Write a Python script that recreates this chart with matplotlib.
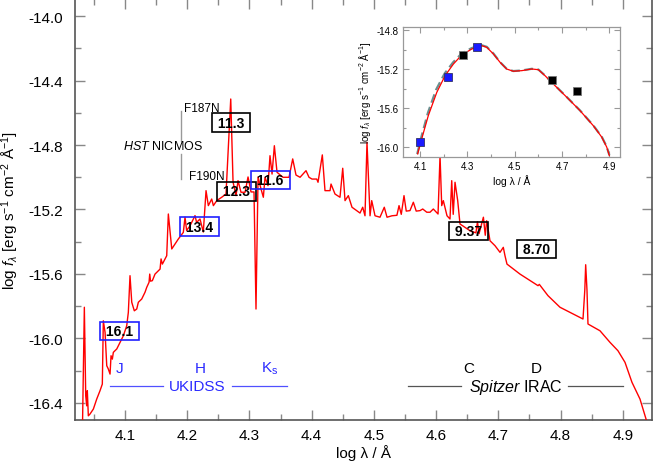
import matplotlib
matplotlib.use("Agg")
import matplotlib.pyplot as plt
from matplotlib.ticker import MultipleLocator

plt.rcParams['font.family'] = ['Liberation Sans', 'DejaVu Sans']
plt.rcParams['mathtext.fontset'] = 'custom'
plt.rcParams['mathtext.rm'] = 'Liberation Sans'
plt.rcParams['mathtext.it'] = 'Liberation Sans:italic'
plt.rcParams['mathtext.bf'] = 'Liberation Sans:bold'
plt.rcParams['axes.unicode_minus'] = False

# ---------------- data: main spectrum (log lambda, log f_lambda) ----------------
spec_x = [4.0314, 4.0346, 4.0368, 4.0384, 4.0394, 4.0410, 4.0437, 4.0491, 4.0545, 4.0598,
          4.0635, 4.0651, 4.0679, 4.0706, 4.0732, 4.0759, 4.0775, 4.0796, 4.0812, 4.0867,
          4.0920, 4.0973, 4.1027, 4.1053, 4.1080, 4.1108, 4.1149, 4.1188, 4.1214, 4.1268,
          4.1321, 4.1349, 4.1386, 4.1397, 4.1410, 4.1439, 4.1482, 4.1563, 4.1579, 4.1600,
          4.1643, 4.1670, 4.1696, 4.1751, 4.1857, 4.1937, 4.1964, 4.1990, 4.2045, 4.2125,
          4.2150, 4.2205, 4.2258, 4.2302, 4.2339, 4.2393, 4.2420, 4.2474, 4.2554, 4.2623,
          4.2699, 4.2736, 4.2784, 4.2816, 4.2864, 4.2929, 4.2977, 4.3025, 4.3073, 4.3105,
          4.3138, 4.3186, 4.3223, 4.3250, 4.3298, 4.3330, 4.3363, 4.3400, 4.3443, 4.3539,
          4.3636, 4.3695, 4.3748, 4.3813, 4.3909, 4.3957, 4.4005, 4.4081, 4.4102, 4.4171,
          4.4214, 4.4295, 4.4311, 4.4375, 4.4455, 4.4499, 4.4536, 4.4589, 4.4648, 4.4777,
          4.4820, 4.4857, 4.4889, 4.4938, 4.4965, 4.5018, 4.5098, 4.5167, 4.5211, 4.5291,
          4.5370, 4.5404, 4.5440, 4.5484, 4.5520, 4.5580, 4.5634, 4.5680, 4.5741, 4.5785,
          4.5850, 4.5902, 4.5955, 4.6031, 4.6063, 4.6090, 4.6116, 4.6175, 4.6223, 4.6251,
          4.6275, 4.6304, 4.6347, 4.6384, 4.6464, 4.6545, 4.6640, 4.6665, 4.6690, 4.6760,
          4.6790, 4.6813, 4.6866, 4.6947, 4.7027, 4.7080, 4.7107, 4.7139, 4.7348, 4.7638,
          4.7659, 4.7798, 4.7991, 4.8361, 4.8390, 4.8404, 4.8425, 4.8441, 4.8634, 4.8795,
          4.8923, 4.9036, 4.9148, 4.9277, 4.9374, 4.9450]
spec_y = [-16.60, -15.807, -16.357, -16.419, -16.325, -16.481, -16.470, -16.439, -16.377, -16.325,
          -16.284, -15.891, -15.963, -16.170, -16.191, -16.222, -16.108, -16.129, -16.087, -16.066,
          -16.025, -15.984, -15.922, -15.839, -15.611, -15.776, -15.829, -15.818, -15.776, -15.756,
          -15.714, -15.683, -15.652, -15.601, -15.645, -15.642, -15.601, -15.570, -15.507, -15.539,
          -15.507, -15.487, -15.228, -15.445, -15.383, -15.342, -15.248, -15.330, -15.301, -15.238,
          -15.280, -15.259, -15.340, -15.083, -15.176, -15.135, -15.176, -15.145, -15.124, -15.104,
          -14.514, -15.029, -15.114, -15.021, -15.093, -15.093, -14.998, -15.091, -15.091, -15.818,
          -14.998, -15.073, -15.124, -15.000, -15.052, -14.866, -14.980, -14.804, -14.969, -15.000,
          -15.000, -14.886, -14.986, -15.000, -14.959, -15.000, -15.011, -15.011, -15.031, -14.861,
          -15.083, -15.083, -15.042, -15.104, -15.124, -14.944, -15.145, -15.114, -15.186, -15.222,
          -15.186, -15.239, -14.783, -15.239, -15.145, -15.239, -15.248, -15.186, -15.248, -15.239,
          -15.236, -15.176, -15.230, -15.114, -15.210, -15.207, -15.155, -15.210, -15.207, -15.197,
          -15.217, -15.217, -15.197, -15.228, -14.866, -15.176, -15.145, -15.239, -15.259, -15.021,
          -15.230, -15.031, -15.145, -15.290, -15.311, -15.332, -15.345, -15.276, -15.350, -15.248,
          -15.360, -15.270, -15.394, -15.425, -15.466, -15.435, -15.487, -15.539, -15.601, -15.673,
          -15.665, -15.735, -15.807, -15.880, -15.700, -15.543, -15.700, -15.911, -15.953, -16.025,
          -16.077, -16.149, -16.273, -16.377, -16.501, -16.650]

# photometry labels (magnitudes) and their positions
box_labels = ['16.1', '13.4', '11.3', '12.3', '11.6', '9.37', '8.70']
box_x = [4.091, 4.2197, 4.270, 4.2784, 4.3338, 4.652, 4.762]
box_y = [-15.953, -15.306, -14.660, -15.088, -15.018, -15.334, -15.445]
box_colors = ['blue', 'blue', 'black', 'black', 'blue', 'black', 'black']

# filter-name labels
band_labels = ['J', 'H', 'K$_\\mathrm{s}$', 'C', 'D']
band_x = [4.0908, 4.2205, 4.333, 4.6518, 4.7617]
band_y = [-16.186, -16.186, -16.186, -16.186, -16.186]
band_colors = ['#2a2aff', '#2a2aff', '#2a2aff', 'black', 'black']

# ---------------- inset data ----------------
model_x = [4.090, 4.107, 4.135, 4.171, 4.206, 4.241, 4.276, 4.319, 4.361, 4.382, 4.410, 4.438,
           4.466, 4.494, 4.530, 4.572, 4.600, 4.628, 4.663, 4.720, 4.776, 4.832, 4.868, 4.889, 4.900]
model_y = [-16.068, -15.915, -15.676, -15.437, -15.267, -15.148, -15.056, -14.994, -14.960, -14.977,
           -15.045, -15.130, -15.199, -15.222, -15.216, -15.199, -15.206, -15.267, -15.352, -15.488,
           -15.625, -15.779, -15.897, -15.999, -16.085]
model2_x = [4.088, 4.105, 4.133, 4.168, 4.204, 4.240, 4.276, 4.318, 4.360, 4.382, 4.410, 4.438,
            4.466, 4.494, 4.530, 4.572, 4.600, 4.628, 4.663, 4.720, 4.776, 4.832, 4.868, 4.889, 4.900]
model2_y = [-16.070, -15.900, -15.650, -15.410, -15.245, -15.130, -15.040, -14.985, -14.955, -14.972,
            -15.040, -15.128, -15.197, -15.220, -15.214, -15.197, -15.204, -15.265, -15.350, -15.486,
            -15.623, -15.776, -15.893, -15.995, -16.080]
phot_blue_x = [4.10, 4.22, 4.34]
phot_blue_y = [-15.95, -15.277, -14.977]
phot_black_x = [4.283, 4.656, 4.765]
phot_black_y = [-15.056, -15.308, -15.420]

# ---------------- figure ----------------
fig = plt.figure(figsize=(6.54, 4.64), dpi=100)
ax = fig.add_axes([0.1147, 0.0927, 0.8830, 0.9073])
ax.plot(spec_x, spec_y, color='red', lw=1.0, zorder=3)
ax.set_xlim(4.0196, 4.9478)
ax.set_ylim(-16.507, -13.893)

ax.set_xticks([4.1, 4.2, 4.3, 4.4, 4.5, 4.6, 4.7, 4.8, 4.9])
ax.set_yticks([-16.4, -16.0, -15.6, -15.2, -14.8, -14.4, -14.0])
ax.xaxis.set_minor_locator(MultipleLocator(0.05))
ax.yaxis.set_minor_locator(MultipleLocator(0.2))
ax.tick_params(which='both', direction='in', top=True, right=True, color='#888888',
               width=1.0, labelsize=11)
ax.tick_params(which='major', length=7.5)
ax.tick_params(which='minor', length=4)
ax.tick_params(axis='x', pad=6)
ax.tick_params(axis='y', pad=9)
for s in ax.spines.values():
    s.set_color('#555555')
    s.set_linewidth(1.2)
ax.set_xlabel('log λ / Å', fontsize=11, labelpad=1)
ax.set_ylabel('log $\\mathit{f}_\\lambda$ [erg s$^{-1}$ cm$^{-2}$ Å$^{-1}$]', fontsize=11, labelpad=5)

for lab, x, y, c in zip(box_labels, box_x, box_y, box_colors):
    ec = '#2020ff' if c == 'blue' else 'black'
    ax.text(x, y, ' ' + lab + ' ', ha='center', va='center', fontsize=10, fontweight='bold',
            color='black', zorder=4,
            bbox=dict(boxstyle='square,pad=0.15', fc='none', ec=ec, lw=1.2))

for lab, x, y, c in zip(band_labels, band_x, band_y, band_colors):
    ax.text(x, y, lab, ha='center', va='center', fontsize=11, color=c)

# UKIDSS bar
ax.plot([4.0759, 4.1611], [-16.294, -16.294], color='#5050ff', lw=0.9)
ax.plot([4.2715, 4.3599], [-16.294, -16.294], color='#5050ff', lw=0.9)
ax.text(4.2157, -16.294, 'UKIDSS', ha='center', va='center', fontsize=11, color='#2a2aff')

# Spitzer bar
ax.plot([4.5548, 4.6400], [-16.298, -16.298], color='#555555', lw=0.9)
ax.plot([4.8120, 4.9004], [-16.298, -16.298], color='#555555', lw=0.9)
ax.text(4.7284, -16.298, '$\\mathit{Spitzer}$ IRAC', ha='center', va='center', fontsize=11.5,
        color='black')

# NICMOS
ax.plot([4.1900, 4.1900], [-14.586, -14.773], color='#999999', lw=1.0)
ax.plot([4.1900, 4.1900], [-14.855, -15.011], color='#999999', lw=1.0)
ax.text(4.1603, -14.804, '$\\mathit{HST}$ NICMOS', ha='center', va='center', fontsize=9)
ax.text(4.1953, -14.571, 'F187N', ha='left', va='center', fontsize=8.5)
ax.text(4.2029, -14.99, 'F190N', ha='left', va='center', fontsize=8.5)

# ---------------- inset ----------------
ins = fig.add_axes([0.6162, 0.6595, 0.3318, 0.2808])
ins.set_facecolor('white')
ins.plot(model2_x, model2_y, color='#6a9090', lw=1.6, ls=(0, (4, 2)), zorder=2)
ins.plot(model_x, model_y, color='red', lw=0.9, zorder=3)
ins.plot(phot_blue_x, phot_blue_y, 's', color='#1a1aff', ms=6, mec='#333366', mew=0.6, zorder=4)
ins.plot(phot_black_x, phot_black_y, 's', color='black', ms=6, mec='#777777', mew=0.6, zorder=4)
ins.set_xlim(4.028, 4.945)
ins.set_ylim(-16.1, -14.766)
ins.set_xticks([4.1, 4.3, 4.5, 4.7, 4.9])
ins.set_yticks([-16.0, -15.6, -15.2, -14.8])
ins.xaxis.set_minor_locator(MultipleLocator(0.1))
ins.yaxis.set_minor_locator(MultipleLocator(0.2))
ins.tick_params(which='both', direction='in', top=True, right=True, color='#999999',
                width=0.8, labelsize=7, pad=3)
ins.tick_params(which='major', length=4)
ins.tick_params(which='minor', length=2.5)
for s in ins.spines.values():
    s.set_color('#999999')
    s.set_linewidth(0.9)
ins.set_xlabel('log λ / Å', fontsize=7.5)
ins.set_ylabel('log $\\mathit{f}_\\lambda$ [erg s$^{-1}$ cm$^{-2}$ Å$^{-1}$]', fontsize=7)
ins.xaxis.set_label_coords(0.5, -0.13)
ins.yaxis.set_label_coords(-0.14, 0.5)

fig.savefig('out.png', dpi=100)
